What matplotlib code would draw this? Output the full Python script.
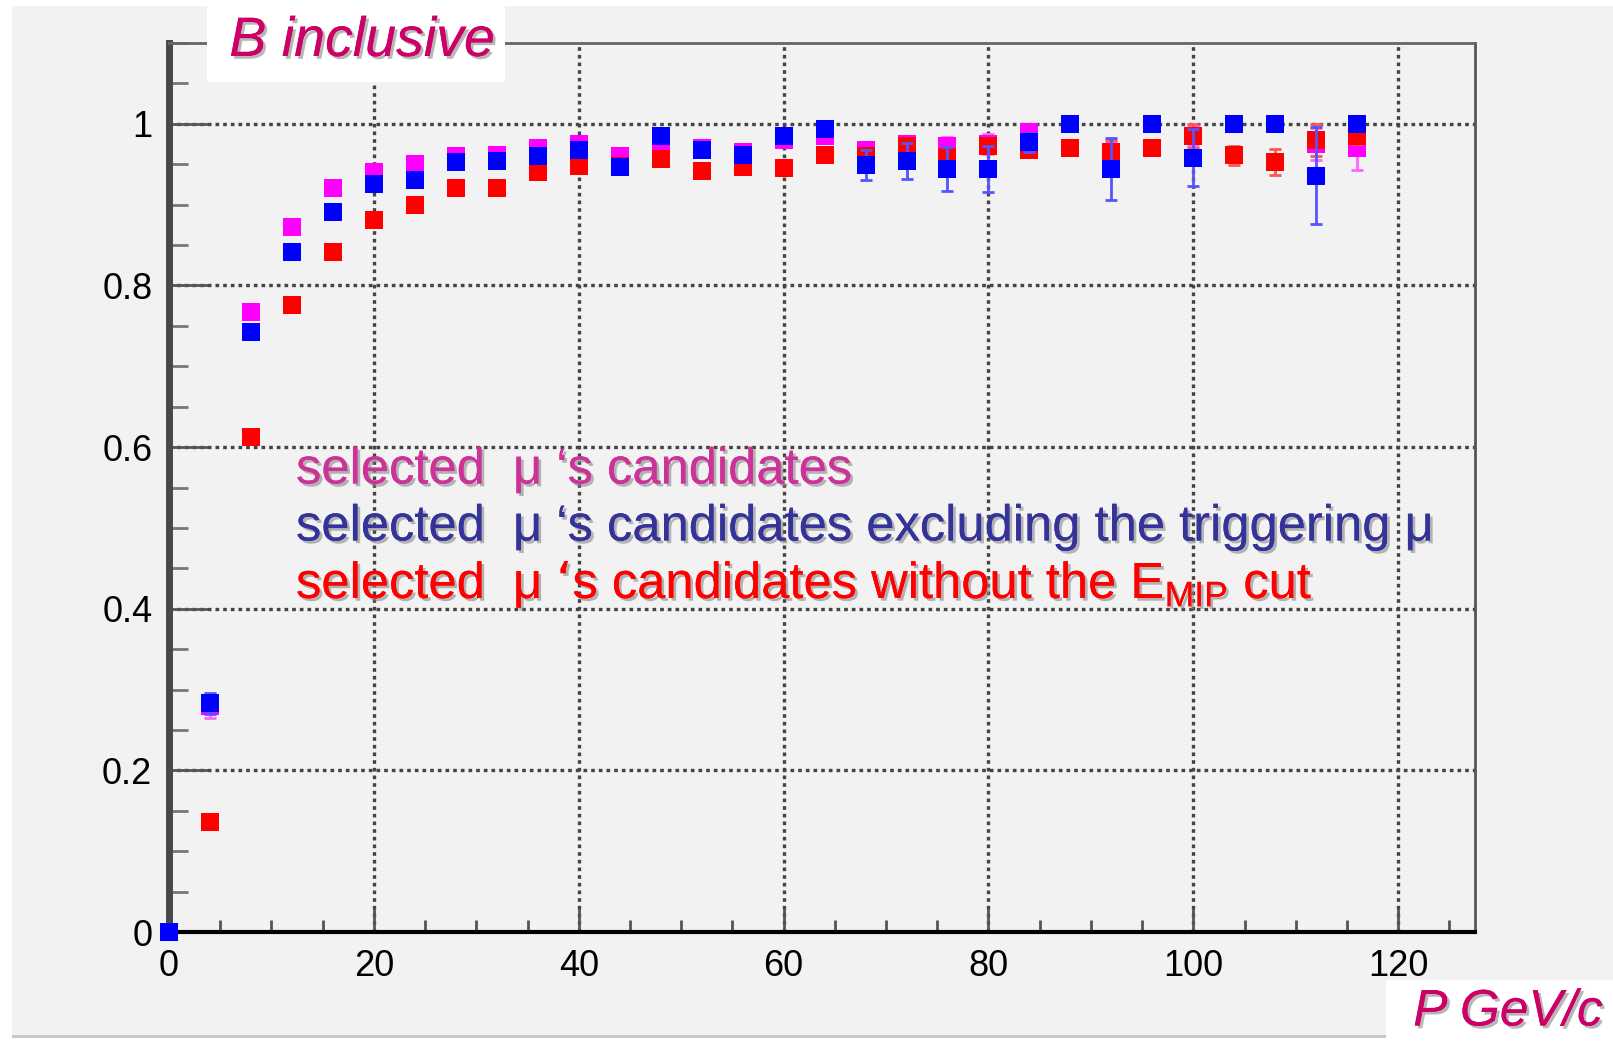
import matplotlib
matplotlib.use("Agg")
import matplotlib.pyplot as plt
from matplotlib.patches import Rectangle
from matplotlib.ticker import MultipleLocator
import matplotlib.patheffects as pe

# Momentum bins (GeV/c)
p_bins = [0, 4, 8, 12, 16, 20, 24, 28, 32, 36, 40, 44, 48, 52, 56,
          60, 64, 68, 72, 76, 80, 84, 88, 92, 96, 100, 104, 108, 112, 116]

# selected mu candidates
eff_all = [0.0, 0.280, 0.767, 0.872, 0.920, 0.940, 0.950, 0.960, 0.962, 0.970,
           0.975, 0.960, 0.975, 0.970, 0.965, 0.980, 0.985, 0.967, 0.975, 0.972,
           0.975, 0.990, 1.000, 0.962, 1.000, 0.985, 1.000, 1.000, 0.975, 0.970]
err_all = [0.0, 0.015, 0.006, 0.005, 0.005, 0.005, 0.005, 0.005, 0.005, 0.005,
           0.005, 0.006, 0.006, 0.006, 0.006, 0.006, 0.006, 0.010, 0.010, 0.012,
           0.012, 0.010, 0.000, 0.015, 0.000, 0.012, 0.000, 0.000, 0.020, 0.027]

# selected mu candidates excluding the triggering mu
eff_notrig = [0.0, 0.283, 0.743, 0.841, 0.891, 0.925, 0.930, 0.953, 0.954, 0.960,
              0.968, 0.947, 0.985, 0.967, 0.962, 0.985, 0.993, 0.949, 0.954, 0.944,
              0.944, 0.977, 1.000, 0.944, 1.000, 0.958, 1.000, 1.000, 0.936, 1.000]
err_notrig = [0.0, 0.013, 0.006, 0.005, 0.005, 0.005, 0.005, 0.005, 0.005, 0.005,
              0.006, 0.006, 0.006, 0.007, 0.008, 0.008, 0.006, 0.018, 0.022, 0.027,
              0.028, 0.012, 0.000, 0.038, 0.000, 0.035, 0.000, 0.000, 0.060, 0.000]

# selected mu candidates without the E_MIP cut
eff_nomip = [0.0, 0.136, 0.613, 0.776, 0.841, 0.881, 0.900, 0.920, 0.920, 0.940,
             0.948, 0.948, 0.957, 0.942, 0.946, 0.945, 0.961, 0.960, 0.972, 0.959,
             0.973, 0.968, 0.970, 0.965, 0.970, 0.985, 0.961, 0.953, 0.980, 0.985]
err_nomip = [0.0, 0.006, 0.006, 0.005, 0.005, 0.005, 0.005, 0.005, 0.005, 0.005,
             0.005, 0.005, 0.005, 0.005, 0.005, 0.005, 0.005, 0.006, 0.006, 0.008,
             0.008, 0.008, 0.006, 0.015, 0.008, 0.015, 0.012, 0.016, 0.020, 0.010]

x_ticks = [0, 20, 40, 60, 80, 100, 120]
y_ticks = [0, 0.2, 0.4, 0.6, 0.8, 1.0]
y_tick_labels = ["0", "0.2", "0.4", "0.6", "0.8", "1"]

legend_lines = [
    ("selected  \u03bc \u2018s candidates", "#cc3399"),
    ("selected  \u03bc \u2018s candidates excluding the triggering \u03bc", "#333399"),
    ("selected  \u03bc \u2018s candidates without the E$_{\\mathregular{MIP}}$ cut", "#ff0000"),
]

W, H = 1613, 1047
fig = plt.figure(figsize=(W / 100, H / 100), dpi=100, facecolor="white")

# canvas panel
fig.patches.append(Rectangle((12 / W, 1 - 1035 / H), 1 - 12 / W, (1035 - 6) / H,
                             transform=fig.transFigure, facecolor="#f2f2f2",
                             edgecolor="none", zorder=-2))
fig.patches.append(Rectangle((12 / W, 1 - 1038 / H), 1 - 12 / W, 3 / H,
                             transform=fig.transFigure, facecolor="#c8c8c8",
                             edgecolor="none", zorder=-2))

ax = fig.add_axes([169 / W, 1 - 932 / H, (1475 - 169) / W, (932 - 43) / H])
ax.set_facecolor("#f2f2f2")
ax.set_xlim(0, 127.5)
ax.set_ylim(0, 1.1)

ax.grid(True, which="major", color="#454545", linestyle=(0, (1.1, 1.2)), linewidth=2.4)
ax.set_axisbelow(True)

ax.xaxis.set_major_locator(MultipleLocator(20))
ax.xaxis.set_minor_locator(MultipleLocator(5))
ax.yaxis.set_major_locator(MultipleLocator(0.2))
ax.yaxis.set_minor_locator(MultipleLocator(0.05))
ax.set_xticks(x_ticks)
ax.set_yticks(y_ticks)
ax.set_yticklabels(y_tick_labels)

ax.tick_params(axis="x", which="major", direction="in", length=17, width=2,
               color="#555555", labelsize=26, pad=12)
ax.tick_params(axis="x", which="minor", direction="in", length=9, width=2,
               color="#555555")
ax.tick_params(axis="y", which="major", direction="in", length=28, width=2,
               color="#555555", labelsize=26, pad=12)
ax.tick_params(axis="y", which="minor", direction="in", length=14, width=2,
               color="#777777")
for lab in ax.get_xticklabels() + ax.get_yticklabels():
    lab.set_family(["Liberation Sans", "DejaVu Sans"])

ax.spines["left"].set_color("#484848")
ax.spines["left"].set_linewidth(5)
ax.spines["bottom"].set_color("black")
ax.spines["bottom"].set_linewidth(3)
ax.spines["top"].set_color("#666666")
ax.spines["top"].set_linewidth(2)
ax.spines["right"].set_color("#555555")
ax.spines["right"].set_linewidth(2)

series = [
    (eff_all, err_all, "#ff00ff", "#ff66ff", 3),
    (eff_nomip, err_nomip, "#ff0000", "#ff5555", 4),
    (eff_notrig, err_notrig, "#0000ff", "#5555ff", 5),
]
for vals, errs, col, ecol, z in series:
    ax.errorbar(p_bins, vals, yerr=errs, fmt="none", ecolor=ecol,
                elinewidth=2, capsize=4, capthick=2, zorder=z, clip_on=False)
    ax.plot(p_bins, vals, "s", color=col, markersize=13, markeredgewidth=0,
            zorder=z + 0.5, clip_on=False)

shadow = [pe.withSimplePatchShadow(offset=(2, -2), shadow_rgbFace="#888888", alpha=0.6),
          pe.Normal()]

for i, (txt, col) in enumerate(legend_lines):
    fig.text(296 / W, 1 - (470 + 57 * i) / H, txt, color=col, fontsize=36.5,
             family=["Liberation Sans", "DejaVu Sans"], ha="left", va="center",
             path_effects=shadow, zorder=10)

# title box
fig.patches.append(Rectangle((207 / W, 1 - 82 / H), (505 - 207) / W, (82 - 6) / H,
                             transform=fig.transFigure, facecolor="white",
                             edgecolor="none", zorder=5))
fig.text(362 / W, 1 - 42 / H, "B inclusive", color="#cc0066", fontsize=40,
         style="italic", family=["Liberation Sans", "DejaVu Sans"],
         ha="center", va="center", path_effects=shadow, zorder=10)

# axis title box
fig.patches.append(Rectangle((1386 / W, 0), (W - 1386) / W, (1047 - 980) / H,
                             transform=fig.transFigure, facecolor="white",
                             edgecolor="none", zorder=5))
fig.text(1508 / W, 1 - 1012 / H, "P GeV/c", color="#cc0066", fontsize=37,
         style="italic", family=["Liberation Sans", "DejaVu Sans"],
         ha="center", va="center", path_effects=shadow, zorder=10)

fig.savefig("out.png", dpi=100, facecolor="white")
